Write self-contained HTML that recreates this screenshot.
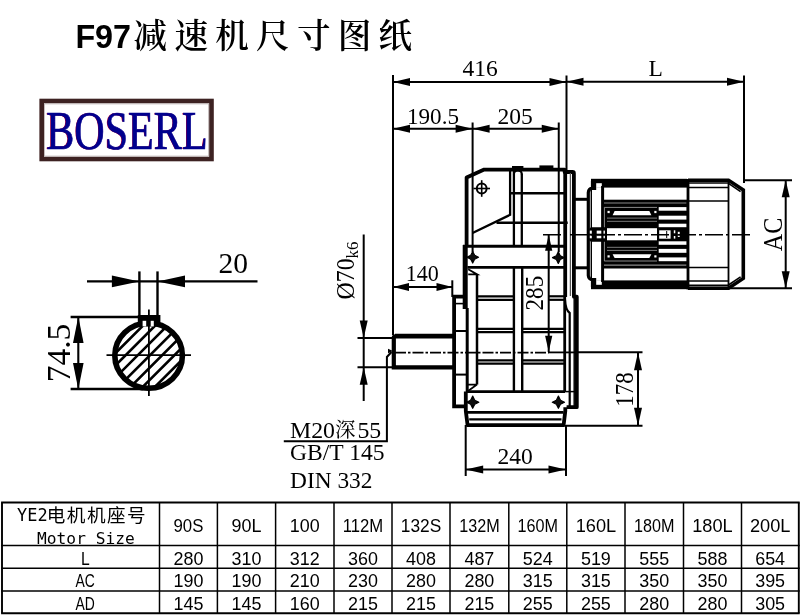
<!DOCTYPE html>
<html lang="zh"><head><meta charset="utf-8"><title>F97减速机尺寸图纸</title>
<style>
html,body{margin:0;padding:0;background:#fff;}
svg{display:block;}
.se{font-family:"Liberation Serif","Noto Serif CJK SC",serif;}
.sa{font-family:"Liberation Sans","Noto Sans CJK SC",sans-serif;}
.kai{font-family:"Noto Serif CJK SC","Liberation Serif",serif;font-weight:600;}
.tb{font-family:"Liberation Sans","Noto Sans CJK SC",sans-serif;}
.cj{font-family:"Noto Sans CJK SC","WenQuanYi Zen Hei",sans-serif;}
.tm{font-family:"DejaVu Sans Mono","Liberation Mono",monospace;}
text{stroke:none;}
</style></head><body>
<svg width="800" height="616" viewBox="0 0 800 616">
<rect x="0" y="0" width="800" height="616" fill="#fff"/>
<defs><filter id="soft" x="-2%" y="-2%" width="104%" height="104%"><feGaussianBlur stdDeviation="0.45"/></filter></defs>
<g stroke="#000" fill="#000" filter="url(#soft)">
<text x="75.4" y="47.5" font-size="34" font-weight="bold" class="sa" textLength="55.6" lengthAdjust="spacingAndGlyphs" stroke="none">F97</text>
<text x="133.6" y="48.2" font-size="33.6" class="kai" textLength="278.6" lengthAdjust="spacing" stroke="none">减速机尺寸图纸</text>
<rect x="41.7" y="101" width="169.8" height="58" fill="#fff" stroke="#3e2121" stroke-width="4.6"/>
<rect x="44.6" y="103.9" width="164" height="52.2" fill="none" stroke="#b9b0b0" stroke-width="0.8"/>
<g transform="translate(46.2,148.8) scale(0.78,1)"><text x="-0.8" y="0.6" font-size="54" class="se" fill="#e0102a" stroke="none">BOSERL</text><text x="0" y="0" font-size="54" class="se" fill="#00008e" style="stroke:#00008e;stroke-width:0.7px">BOSERL</text></g>
<clipPath id="cc"><ellipse cx="148.6" cy="355.6" rx="34" ry="33"/></clipPath>
<path d="M26.400000000000006,405.6 L126.4,305.6 M38.599999999999994,405.6 L138.6,305.6 M50.8,405.6 L150.8,305.6 M63.0,405.6 L163.0,305.6 M75.19999999999999,405.6 L175.2,305.6 M87.39999999999999,405.6 L187.4,305.6 M99.6,405.6 L199.6,305.6 M111.8,405.6 L211.79999999999998,305.6 M124.0,405.6 L224.0,305.6 M136.2,405.6 L236.2,305.6 M148.39999999999998,405.6 L248.39999999999998,305.6 M160.6,405.6 L260.6,305.6 M172.79999999999998,405.6 L272.79999999999995,305.6" stroke-width="2.6" clip-path="url(#cc)" fill="none"/>
<ellipse cx="148.6" cy="355.6" rx="33.8" ry="32.6" fill="none" stroke-width="5.6"/>
<rect x="137.8" y="315" width="22.6" height="11.6" stroke-width="0" fill="#000" stroke="none"/>
<rect x="142.6" y="320.8" width="3.6" height="5.6" stroke-width="0" fill="#fff" stroke="none"/>
<rect x="150.7" y="320.8" width="3.1" height="5.6" stroke-width="0" fill="#fff" stroke="none"/>
<line x1="106.5" y1="355.2" x2="191" y2="355.2" stroke-width="1.8" />
<line x1="148.9" y1="309.5" x2="148.9" y2="396" stroke-width="1.8" />
<line x1="87" y1="281.4" x2="257.5" y2="281.4" stroke-width="2.1" />
<polygon points="139.4,281.4 111.9,275.59999999999997 111.9,287.2" fill="#000" stroke="none"/>
<polygon points="157.5,281.4 185.0,275.59999999999997 185.0,287.2" fill="#000" stroke="none"/>
<line x1="139.4" y1="271.4" x2="139.4" y2="318" stroke-width="2.4" />
<line x1="157.5" y1="271.4" x2="157.5" y2="318" stroke-width="2.4" />
<text class="se" x="218.5" y="272.7" font-size="29.5" text-anchor="start" textLength="29.5" lengthAdjust="spacingAndGlyphs" >20</text>
<line x1="70.6" y1="317" x2="160" y2="317" stroke-width="2.4" />
<line x1="70.6" y1="389" x2="143" y2="389" stroke-width="2.4" />
<line x1="78.3" y1="317" x2="78.3" y2="389" stroke-width="2.1" />
<polygon points="78.3,316.6 73.0,343.1 83.6,343.1" fill="#000" stroke="none"/>
<polygon points="78.3,389.4 73.0,362.9 83.6,362.9" fill="#000" stroke="none"/>
<text class="se" x="70.2" y="382.2" font-size="33" text-anchor="start" transform="rotate(-90 70.2 382.2)" textLength="58.4" lengthAdjust="spacingAndGlyphs" >74.5</text>
<line x1="393" y1="75" x2="393" y2="335" stroke-width="2.0" />
<line x1="393" y1="82" x2="566.5" y2="82" stroke-width="2.0" />
<polygon points="393,82 410,78.0 410,86.0" fill="#000" stroke="none"/>
<polygon points="566.5,82 549.5,78.0 549.5,86.0" fill="#000" stroke="none"/>
<line x1="566.5" y1="75.5" x2="566.5" y2="170" stroke-width="2.0" />
<line x1="566.5" y1="81.7" x2="744" y2="81.7" stroke-width="2.0" />
<polygon points="566.5,81.7 583.5,77.7 583.5,85.7" fill="#000" stroke="none"/>
<polygon points="744,81.7 727,77.7 727,85.7" fill="#000" stroke="none"/>
<line x1="744" y1="75.5" x2="744" y2="183" stroke-width="2.0" />
<line x1="393" y1="128.8" x2="558.75" y2="128.8" stroke-width="2.0" />
<polygon points="393,128.8 410,124.80000000000001 410,132.8" fill="#000" stroke="none"/>
<polygon points="472.6,128.8 455.6,124.80000000000001 455.6,132.8" fill="#000" stroke="none"/>
<polygon points="472.6,128.8 489.6,124.80000000000001 489.6,132.8" fill="#000" stroke="none"/>
<polygon points="558.75,128.8 541.75,124.80000000000001 541.75,132.8" fill="#000" stroke="none"/>
<line x1="472.6" y1="122.5" x2="472.6" y2="252" stroke-width="2.0" />
<line x1="558.75" y1="122.5" x2="558.75" y2="252" stroke-width="2.0" />
<text class="se" x="462.5" y="76.2" font-size="23.5" text-anchor="start" >416</text>
<text class="se" x="407" y="124.2" font-size="23.5" text-anchor="start" textLength="52" lengthAdjust="spacingAndGlyphs" >190.5</text>
<text class="se" x="497.5" y="124.2" font-size="23.5" text-anchor="start" >205</text>
<text class="se" x="648.5" y="76.4" font-size="23.5" text-anchor="start" >L</text>
<line x1="393" y1="287" x2="452.5" y2="287" stroke-width="2.0" />
<polygon points="393,287 409,283.0 409,291.0" fill="#000" stroke="none"/>
<polygon points="452.5,287 436.5,283.0 436.5,291.0" fill="#000" stroke="none"/>
<line x1="452.3" y1="280.3" x2="452.3" y2="297" stroke-width="2.0" />
<text class="se" x="405.8" y="280.8" font-size="23.5" text-anchor="start" textLength="33" lengthAdjust="spacingAndGlyphs" >140</text>
<line x1="363.7" y1="234.5" x2="363.7" y2="401" stroke-width="2.0" />
<polygon points="363.7,338 359.7,320.5 367.7,320.5" fill="#000" stroke="none"/>
<polygon points="363.7,367.2 359.7,384.7 367.7,384.7" fill="#000" stroke="none"/>
<line x1="357.5" y1="338.1" x2="393" y2="338.1" stroke-width="2.0" />
<line x1="357.5" y1="367.2" x2="393" y2="367.2" stroke-width="2.0" />
<text class="se" transform="translate(353.6,299.4) rotate(-90) scale(0.96,1)" font-size="24.8" stroke="none">Ø70<tspan font-size="17.5" dy="4.8">k6</tspan></text>
<path d="M391.5,352 L386.9,357 L386.9,441.3 L283.8,441.3" stroke-width="2.0" fill="none" />
<polygon points="393,351 388,348.8 388,353.2" fill="#000" stroke="none"/>
<text class="se" x="290" y="437.5" font-size="23.8" text-anchor="start" >M20<tspan font-size="20.5" dy="-0.5">深</tspan><tspan dy="0.5" dx="2">55</tspan></text>
<text class="se" x="290" y="460" font-size="23.5" text-anchor="start" textLength="94.5" lengthAdjust="spacingAndGlyphs" >GB/T 145</text>
<text class="se" x="290" y="487.5" font-size="23.5" text-anchor="start" textLength="82.5" lengthAdjust="spacingAndGlyphs" >DIN 332</text>
<line x1="465.7" y1="425" x2="465.7" y2="476" stroke-width="2.0" />
<line x1="566" y1="425" x2="566" y2="476" stroke-width="2.0" />
<line x1="465.7" y1="469.5" x2="566" y2="469.5" stroke-width="2.0" />
<polygon points="465.7,469.5 483.2,465.5 483.2,473.5" fill="#000" stroke="none"/>
<polygon points="566,469.5 548.5,465.5 548.5,473.5" fill="#000" stroke="none"/>
<text class="se" x="497.5" y="463.8" font-size="23.5" text-anchor="start" >240</text>
<line x1="578" y1="352.3" x2="642.5" y2="352.3" stroke-width="2.0" />
<line x1="566" y1="425.7" x2="642.5" y2="425.7" stroke-width="2.0" />
<line x1="638" y1="352.3" x2="638" y2="425.7" stroke-width="2.0" />
<polygon points="638,352.3 634.0,370.3 642.0,370.3" fill="#000" stroke="none"/>
<polygon points="638,425.7 634.0,407.7 642.0,407.7" fill="#000" stroke="none"/>
<text class="se" x="632.6" y="406.8" font-size="25.2" text-anchor="start" transform="rotate(-90 632.6 406.8)" textLength="34.4" lengthAdjust="spacingAndGlyphs" >178</text>
<line x1="548.7" y1="234.7" x2="548.7" y2="352" stroke-width="2.0" />
<polygon points="548.7,234.7 545.1,250.7 552.3000000000001,250.7" fill="#000" stroke="none"/>
<polygon points="548.7,351.8 545.1,335.8 552.3000000000001,335.8" fill="#000" stroke="none"/>
<text class="se" x="543.2" y="310.4" font-size="25.6" text-anchor="start" transform="rotate(-90 543.2 310.4)" textLength="34.6" lengthAdjust="spacingAndGlyphs" >285</text>
<line x1="743" y1="180.3" x2="792" y2="180.3" stroke-width="2.0" />
<line x1="728" y1="288.3" x2="792" y2="288.3" stroke-width="2.0" />
<line x1="785.7" y1="180.3" x2="785.7" y2="288.3" stroke-width="2.0" />
<polygon points="785.7,180.3 781.7,197.3 789.7,197.3" fill="#000" stroke="none"/>
<polygon points="785.7,288.3 781.7,271.3 789.7,271.3" fill="#000" stroke="none"/>
<text class="se" x="782" y="251.2" font-size="27.4" text-anchor="start" transform="rotate(-90 782 251.2)" textLength="33.4" lengthAdjust="spacingAndGlyphs" >AC</text>
<path d="M466.6,246 L466.6,177.6 L484.2,169.6 L564.6,169.6 L564.6,172 L572.6,172 Q573.9,172 573.9,173.4 L573.9,296.7 L576.8,296.7 L576.8,407.2 L566.6,407.2" stroke-width="3.8" fill="none" stroke-linejoin="round"/>
<line x1="512" y1="167.4" x2="523.4" y2="167.4" stroke-width="2.8" />
<line x1="539.4" y1="166.8" x2="553.4" y2="166.8" stroke-width="2.8" />
<path d="M510.1,170 L510.1,214.8 L472.5,233" stroke-width="2.3" fill="none" />
<line x1="513.9" y1="171" x2="513.9" y2="246.3" stroke-width="2.3" />
<line x1="521.8" y1="173.5" x2="521.8" y2="246.3" stroke-width="2.3" />
<path d="M513.9,174.5 Q513.9,170.6 517.8,170.6 Q521.8,170.6 521.8,174.5" stroke-width="2.0" fill="none" />
<line x1="510" y1="193.3" x2="564" y2="193.3" stroke-width="2.5" />
<line x1="496.5" y1="222.7" x2="567.7" y2="222.7" stroke-width="2.5" />
<line x1="565.2" y1="169.6" x2="565.2" y2="297" stroke-width="3.8" />
<line x1="564.7" y1="297" x2="564.7" y2="391.6" stroke-width="2.8" />
<line x1="570.4" y1="173" x2="570.4" y2="296" stroke-width="1.3" stroke="#555"/>
<path d="M565,299.5 Q565.5,310 569.7,313 L569.7,407" stroke-width="2.2" fill="none" />
<line x1="574.2" y1="298" x2="574.2" y2="407" stroke-width="1.5" />
<line x1="565" y1="391.6" x2="577" y2="391.6" stroke-width="1.5" />
<circle cx="481.7" cy="188.5" r="4.9" fill="none" stroke-width="2"/>
<line x1="473.4" y1="188.5" x2="490" y2="188.5" stroke-width="1.6" />
<line x1="481.7" y1="180.2" x2="481.7" y2="196.8" stroke-width="1.6" />
<line x1="463" y1="246.2" x2="565" y2="246.2" stroke-width="3.0" />
<line x1="467.5" y1="267.3" x2="565" y2="267.3" stroke-width="2.8" />
<polygon points="466.90,257.20 470.78,255.28 472.70,251.40 474.62,255.28 478.50,257.20 474.62,259.12 472.70,263.00 470.78,259.12" fill="#000" stroke="#000" stroke-width="1.2" stroke-linejoin="round"/>
<circle cx="472.7" cy="257.2" r="2.96" fill="#111" stroke="none"/>
<polygon points="552.50,257.60 556.38,255.68 558.30,251.80 560.22,255.68 564.10,257.60 560.22,259.52 558.30,263.40 556.38,259.52" fill="#000" stroke="#000" stroke-width="1.2" stroke-linejoin="round"/>
<circle cx="558.3" cy="257.6" r="2.96" fill="#111" stroke="none"/>
<line x1="465.2" y1="245" x2="465.2" y2="309" stroke-width="5.0" />
<line x1="467.2" y1="308" x2="467.2" y2="392" stroke-width="3.0" />
<path d="M468.2,269.2 L477.2,274.4 L468.2,274.4" stroke-width="1.8" fill="none" />
<line x1="477" y1="274.4" x2="477" y2="384.6" stroke-width="2.5" />
<path d="M477,384.6 L467.2,384.6 M477,384.6 L467.4,391.4" stroke-width="1.8" fill="none" />
<line x1="477" y1="296.3" x2="513.8" y2="296.3" stroke-width="2.2" />
<line x1="548.6" y1="296.3" x2="564.6" y2="296.3" stroke-width="2.2" />
<line x1="477" y1="299.8" x2="513.8" y2="299.8" stroke-width="2.2" />
<line x1="548.6" y1="299.8" x2="564.6" y2="299.8" stroke-width="2.2" />
<line x1="477" y1="328.8" x2="513.8" y2="328.8" stroke-width="2.2" />
<line x1="522.3" y1="328.8" x2="564.6" y2="328.8" stroke-width="2.2" />
<line x1="477" y1="332.2" x2="513.8" y2="332.2" stroke-width="2.2" />
<line x1="522.3" y1="332.2" x2="564.6" y2="332.2" stroke-width="2.2" />
<line x1="477" y1="360.3" x2="513.8" y2="360.3" stroke-width="2.2" />
<line x1="522.3" y1="360.3" x2="564.6" y2="360.3" stroke-width="2.2" />
<line x1="477" y1="363.7" x2="513.8" y2="363.7" stroke-width="2.2" />
<line x1="522.3" y1="363.7" x2="564.6" y2="363.7" stroke-width="2.2" />
<line x1="513.9" y1="267.3" x2="513.9" y2="391.7" stroke-width="2.4" />
<line x1="522.2" y1="267.3" x2="522.2" y2="391.7" stroke-width="2.4" />
<line x1="395" y1="352.6" x2="549" y2="352.6" stroke-width="1.7" stroke-dasharray="11 2 2.5 2"/>
<line x1="549" y1="352.4" x2="578" y2="352.4" stroke-width="1.8" />
<line x1="466" y1="391.6" x2="565" y2="391.6" stroke-width="2.6" />
<polygon points="466.60,402.20 470.67,400.17 472.70,396.10 474.73,400.17 478.80,402.20 474.73,404.23 472.70,408.30 470.67,404.23" fill="#000" stroke="#000" stroke-width="1.2" stroke-linejoin="round"/>
<circle cx="472.7" cy="402.2" r="3.12" fill="#111" stroke="none"/>
<polygon points="552.30,402.20 556.37,400.17 558.40,396.10 560.43,400.17 564.50,402.20 560.43,404.23 558.40,408.30 556.37,404.23" fill="#000" stroke="#000" stroke-width="1.2" stroke-linejoin="round"/>
<circle cx="558.4" cy="402.2" r="3.12" fill="#111" stroke="none"/>
<line x1="466" y1="412.3" x2="563.5" y2="412.3" stroke-width="2.8" />
<line x1="469.2" y1="419.3" x2="561.5" y2="419.3" stroke-width="2.2" />
<path d="M465.8,391.6 L465.8,411 L467.6,425.2 L563.6,425.2 L565.3,411 L565.3,407.2" stroke-width="3.8" fill="none" stroke-linejoin="round"/>
<path d="M465,296.6 L454.1,296.6 L454.1,406.4 L466,406.4" stroke-width="3.8" fill="none" />
<line x1="454" y1="331" x2="467" y2="331" stroke-width="2.0" />
<line x1="454" y1="374.6" x2="467" y2="374.6" stroke-width="2.0" />
<line x1="455" y1="303.6" x2="464" y2="303.6" stroke-width="1.6" />
<path d="M454,336.4 L395.3,336.4 Q393.8,336.4 393.8,338 L393.8,367.3 L454,367.3" stroke-width="4.2" fill="none" />
<line x1="395" y1="335.6" x2="454" y2="335.6" stroke-width="3.6" />
<line x1="574.2" y1="199.3" x2="588" y2="199.3" stroke-width="3.0" />
<line x1="574.2" y1="267.8" x2="588" y2="267.8" stroke-width="3.0" />
<path d="M592.5,181 L592.5,188.2 Q588.6,188.6 588.3,192.5 L588.3,275.5 Q588.6,279.4 592.5,279.8 L592.5,287" stroke-width="3.2" fill="none" />
<line x1="591.3" y1="190" x2="591.3" y2="278" stroke-width="1.4" />
<rect x="591" y="178.8" width="96" height="8.8" stroke-width="0" fill="#000" stroke="none"/>
<rect x="591" y="280.4" width="96" height="8.8" stroke-width="0" fill="#000" stroke="none"/>
<rect x="591" y="186" width="5.2" height="4" stroke-width="0" fill="#000" stroke="none"/>
<rect x="591" y="278" width="5.2" height="4" stroke-width="0" fill="#000" stroke="none"/>
<rect x="596.2" y="183.2" width="5.6" height="4.6" stroke-width="0" fill="#fff" stroke="none"/>
<rect x="596.2" y="280.2" width="5.6" height="4.6" stroke-width="0" fill="#fff" stroke="none"/>
<line x1="602.6" y1="186" x2="602.6" y2="282" stroke-width="3.0" />
<rect x="602.6" y="199.7" width="85" height="7.3" stroke-width="0" fill="#000" stroke="none"/>
<rect x="602.6" y="261.2" width="85" height="7.3" stroke-width="0" fill="#000" stroke="none"/>
<line x1="604" y1="203" x2="686.5" y2="203" stroke-width="1.2" stroke="#8a8a8a"/>
<line x1="604" y1="265.2" x2="686.5" y2="265.2" stroke-width="1.2" stroke="#8a8a8a"/>
<rect x="602.6" y="206" width="55.6" height="56" stroke-width="0" fill="#000" stroke="none"/>
<line x1="604.3" y1="207.4" x2="657" y2="207.4" stroke-width="0.9" stroke="#9a9a9a"/>
<line x1="604.3" y1="261" x2="657" y2="261" stroke-width="0.9" stroke="#9a9a9a"/>
<line x1="604.4" y1="207.4" x2="604.4" y2="261" stroke-width="0.9" stroke="#9a9a9a"/>
<polygon points="612.6,215.2 614.6,211 649.3,211 651.4,215.2" fill="#fff" stroke="none"/>
<polygon points="612.6,254.2 614.6,258 649.3,258 651.4,254.2" fill="#fff" stroke="none"/>
<rect x="607.5" y="210.9" width="2.2" height="2.2" stroke-width="0" fill="#fff" stroke="none"/>
<rect x="654.3" y="210.9" width="2.2" height="2.2" stroke-width="0" fill="#fff" stroke="none"/>
<rect x="607.5" y="255.29999999999998" width="2.2" height="2.2" stroke-width="0" fill="#fff" stroke="none"/>
<rect x="654.3" y="255.29999999999998" width="2.2" height="2.2" stroke-width="0" fill="#fff" stroke="none"/>
<line x1="607" y1="218.1" x2="657" y2="218.1" stroke-width="0.9" stroke="#8c8c8c"/>
<line x1="607" y1="221.3" x2="657" y2="221.3" stroke-width="0.9" stroke="#8c8c8c"/>
<line x1="607" y1="247.3" x2="657" y2="247.3" stroke-width="0.9" stroke="#8c8c8c"/>
<line x1="607" y1="250.4" x2="657" y2="250.4" stroke-width="0.9" stroke="#8c8c8c"/>
<rect x="607" y="228.2" width="50" height="12.1" stroke-width="0" fill="#fff" stroke="none"/>
<rect x="657.5" y="206" width="30" height="56" stroke-width="0" fill="#000" stroke="none"/>
<rect x="658.7" y="207.1" width="28" height="3.5999999999999943" stroke-width="0" fill="#fff" stroke="none"/>
<rect x="658.7" y="215.7" width="28" height="3.9000000000000057" stroke-width="0" fill="#fff" stroke="none"/>
<rect x="658.7" y="223.7" width="28" height="3.5" stroke-width="0" fill="#fff" stroke="none"/>
<rect x="658.7" y="241.3" width="28" height="3.5" stroke-width="0" fill="#fff" stroke="none"/>
<rect x="658.7" y="248.9" width="28" height="3.9000000000000057" stroke-width="0" fill="#fff" stroke="none"/>
<rect x="658.7" y="257.4" width="28" height="3.8000000000000114" stroke-width="0" fill="#fff" stroke="none"/>
<rect x="659.2" y="230.3" width="11.4" height="8.4" stroke-width="0" fill="#fff" stroke="none"/>
<line x1="666.7" y1="231" x2="666.7" y2="238" stroke-width="1.0" />
<rect x="673.8" y="230.3" width="1.5" height="3" stroke-width="0" fill="#fff" stroke="none"/>
<rect x="673.8" y="236" width="1.5" height="2.6" stroke-width="0" fill="#fff" stroke="none"/>
<rect x="677.8" y="231.8" width="1.9" height="2.4" stroke-width="0" fill="#fff" stroke="none"/>
<rect x="677.8" y="235.4" width="1.9" height="1.6" stroke-width="0" fill="#fff" stroke="none"/>
<path d="M592,227.2 L605.4,227.2 L605.4,241.8 L592,241.8 Q589.2,241.8 589.2,239 L589.2,230 Q589.2,227.2 592,227.2 Z" stroke-width="0" fill="#000" stroke="none"/>
<rect x="589.8" y="230.6" width="2.0" height="3.1" stroke-width="0" fill="#fff" stroke="none"/>
<rect x="589.8" y="235.6" width="2.0" height="2.7" stroke-width="0" fill="#fff" stroke="none"/>
<rect x="596.7" y="230.6" width="4.599999999999909" height="3.1" stroke-width="0" fill="#fff" stroke="none"/>
<rect x="596.7" y="235.6" width="4.599999999999909" height="2.7" stroke-width="0" fill="#fff" stroke="none"/>
<rect x="603.5" y="230.6" width="1.3999999999999773" height="3.1" stroke-width="0" fill="#fff" stroke="none"/>
<rect x="603.5" y="235.6" width="1.3999999999999773" height="2.7" stroke-width="0" fill="#fff" stroke="none"/>
<path d="M688,180.2 L728.5,180.2 L743.3,190 L743.3,278.4 L728.5,288.2 L688,288.2" stroke-width="3.6" fill="none" />
<line x1="688" y1="179" x2="688" y2="289.5" stroke-width="2.8" />
<line x1="728.5" y1="180.2" x2="728.5" y2="288.2" stroke-width="1.8" />
<path d="M728.5,183.4 L740.6,191.6" stroke-width="1.6" fill="none" />
<path d="M728.5,285 L740.6,276.8" stroke-width="1.6" fill="none" />
<line x1="688" y1="183" x2="728.5" y2="183" stroke-width="1.7" />
<line x1="688" y1="187.5" x2="728.5" y2="187.5" stroke-width="1.7" />
<line x1="688" y1="201" x2="728.5" y2="201" stroke-width="1.7" />
<line x1="688" y1="267.5" x2="728.5" y2="267.5" stroke-width="1.7" />
<line x1="688" y1="281" x2="728.5" y2="281" stroke-width="1.7" />
<line x1="688" y1="285.4" x2="728.5" y2="285.4" stroke-width="1.7" />
<line x1="543" y1="234.7" x2="750" y2="234.7" stroke-width="1.5" stroke-dasharray="18 3 3 3"/>
<line x1="2" y1="502.5" x2="2" y2="613.3" stroke-width="1.9" />
<line x1="159.5" y1="502.5" x2="159.5" y2="613.3" stroke-width="1.5" />
<line x1="217.4" y1="502.5" x2="217.4" y2="613.3" stroke-width="1.5" />
<line x1="275.6" y1="502.5" x2="275.6" y2="613.3" stroke-width="1.5" />
<line x1="334" y1="502.5" x2="334" y2="613.3" stroke-width="1.5" />
<line x1="392" y1="502.5" x2="392" y2="613.3" stroke-width="1.5" />
<line x1="450" y1="502.5" x2="450" y2="613.3" stroke-width="1.5" />
<line x1="508.8" y1="502.5" x2="508.8" y2="613.3" stroke-width="1.5" />
<line x1="566.8" y1="502.5" x2="566.8" y2="613.3" stroke-width="1.5" />
<line x1="625" y1="502.5" x2="625" y2="613.3" stroke-width="1.5" />
<line x1="683.5" y1="502.5" x2="683.5" y2="613.3" stroke-width="1.5" />
<line x1="741.5" y1="502.5" x2="741.5" y2="613.3" stroke-width="1.5" />
<line x1="798.8" y1="502.5" x2="798.8" y2="613.3" stroke-width="1.9" />
<line x1="1.1" y1="502.5" x2="799.6999999999999" y2="502.5" stroke-width="1.9" />
<line x1="1.1" y1="545.6" x2="799.6999999999999" y2="545.6" stroke-width="1.5" />
<line x1="1.1" y1="568.2" x2="799.6999999999999" y2="568.2" stroke-width="1.5" />
<line x1="1.1" y1="590.9" x2="799.6999999999999" y2="590.9" stroke-width="1.5" />
<line x1="1.1" y1="613.3" x2="799.6999999999999" y2="613.3" stroke-width="1.9" />
<text class="tm" x="17" y="521.4" font-size="17.6" stroke="none" textLength="30.6" lengthAdjust="spacingAndGlyphs">YE2</text>
<text class="cj" x="46.8" y="521.8" font-size="18.6" stroke="none" textLength="98.8" lengthAdjust="spacing">电机机座号</text>
<text class="tm" x="37.1" y="544.2" font-size="16.7" stroke="none" textLength="97.6" lengthAdjust="spacingAndGlyphs">Motor Size</text>
<text class="tb" x="173.50" y="532.1" font-size="17.8" textLength="29.90" lengthAdjust="spacingAndGlyphs" stroke="none">90S</text>
<text class="tb" x="231.55" y="532.1" font-size="17.8" textLength="29.90" lengthAdjust="spacingAndGlyphs" stroke="none">90L</text>
<text class="tb" x="289.85" y="532.1" font-size="17.8" textLength="29.90" lengthAdjust="spacingAndGlyphs" stroke="none">100</text>
<text class="tb" x="342.75" y="532.1" font-size="17.8" textLength="40.50" lengthAdjust="spacingAndGlyphs" stroke="none">112M</text>
<text class="tb" x="400.75" y="532.1" font-size="17.8" textLength="40.50" lengthAdjust="spacingAndGlyphs" stroke="none">132S</text>
<text class="tb" x="459.15" y="532.1" font-size="17.8" textLength="40.50" lengthAdjust="spacingAndGlyphs" stroke="none">132M</text>
<text class="tb" x="517.55" y="532.1" font-size="17.8" textLength="40.50" lengthAdjust="spacingAndGlyphs" stroke="none">160M</text>
<text class="tb" x="575.65" y="532.1" font-size="17.8" textLength="40.50" lengthAdjust="spacingAndGlyphs" stroke="none">160L</text>
<text class="tb" x="634.00" y="532.1" font-size="17.8" textLength="40.50" lengthAdjust="spacingAndGlyphs" stroke="none">180M</text>
<text class="tb" x="692.25" y="532.1" font-size="17.8" textLength="40.50" lengthAdjust="spacingAndGlyphs" stroke="none">180L</text>
<text class="tb" x="749.90" y="532.1" font-size="17.8" textLength="40.50" lengthAdjust="spacingAndGlyphs" stroke="none">200L</text>
<text class="tb" x="80.90" y="564.5" font-size="17.8" textLength="8.70" lengthAdjust="spacingAndGlyphs" stroke="none">L</text>
<text class="tb" x="173.50" y="564.5" font-size="17.8" textLength="29.90" lengthAdjust="spacingAndGlyphs" stroke="none">280</text>
<text class="tb" x="231.55" y="564.5" font-size="17.8" textLength="29.90" lengthAdjust="spacingAndGlyphs" stroke="none">310</text>
<text class="tb" x="289.85" y="564.5" font-size="17.8" textLength="29.90" lengthAdjust="spacingAndGlyphs" stroke="none">312</text>
<text class="tb" x="348.05" y="564.5" font-size="17.8" textLength="29.90" lengthAdjust="spacingAndGlyphs" stroke="none">360</text>
<text class="tb" x="406.05" y="564.5" font-size="17.8" textLength="29.90" lengthAdjust="spacingAndGlyphs" stroke="none">408</text>
<text class="tb" x="464.45" y="564.5" font-size="17.8" textLength="29.90" lengthAdjust="spacingAndGlyphs" stroke="none">487</text>
<text class="tb" x="522.85" y="564.5" font-size="17.8" textLength="29.90" lengthAdjust="spacingAndGlyphs" stroke="none">524</text>
<text class="tb" x="580.95" y="564.5" font-size="17.8" textLength="29.90" lengthAdjust="spacingAndGlyphs" stroke="none">519</text>
<text class="tb" x="639.30" y="564.5" font-size="17.8" textLength="29.90" lengthAdjust="spacingAndGlyphs" stroke="none">555</text>
<text class="tb" x="697.55" y="564.5" font-size="17.8" textLength="29.90" lengthAdjust="spacingAndGlyphs" stroke="none">588</text>
<text class="tb" x="755.20" y="564.5" font-size="17.8" textLength="29.90" lengthAdjust="spacingAndGlyphs" stroke="none">654</text>
<text class="tb" x="75.60" y="587" font-size="17.8" textLength="19.30" lengthAdjust="spacingAndGlyphs" stroke="none">AC</text>
<text class="tb" x="173.50" y="587" font-size="17.8" textLength="29.90" lengthAdjust="spacingAndGlyphs" stroke="none">190</text>
<text class="tb" x="231.55" y="587" font-size="17.8" textLength="29.90" lengthAdjust="spacingAndGlyphs" stroke="none">190</text>
<text class="tb" x="289.85" y="587" font-size="17.8" textLength="29.90" lengthAdjust="spacingAndGlyphs" stroke="none">210</text>
<text class="tb" x="348.05" y="587" font-size="17.8" textLength="29.90" lengthAdjust="spacingAndGlyphs" stroke="none">230</text>
<text class="tb" x="406.05" y="587" font-size="17.8" textLength="29.90" lengthAdjust="spacingAndGlyphs" stroke="none">280</text>
<text class="tb" x="464.45" y="587" font-size="17.8" textLength="29.90" lengthAdjust="spacingAndGlyphs" stroke="none">280</text>
<text class="tb" x="522.85" y="587" font-size="17.8" textLength="29.90" lengthAdjust="spacingAndGlyphs" stroke="none">315</text>
<text class="tb" x="580.95" y="587" font-size="17.8" textLength="29.90" lengthAdjust="spacingAndGlyphs" stroke="none">315</text>
<text class="tb" x="639.30" y="587" font-size="17.8" textLength="29.90" lengthAdjust="spacingAndGlyphs" stroke="none">350</text>
<text class="tb" x="697.55" y="587" font-size="17.8" textLength="29.90" lengthAdjust="spacingAndGlyphs" stroke="none">350</text>
<text class="tb" x="755.20" y="587" font-size="17.8" textLength="29.90" lengthAdjust="spacingAndGlyphs" stroke="none">395</text>
<text class="tb" x="75.60" y="610" font-size="17.8" textLength="19.30" lengthAdjust="spacingAndGlyphs" stroke="none">AD</text>
<text class="tb" x="173.50" y="610" font-size="17.8" textLength="29.90" lengthAdjust="spacingAndGlyphs" stroke="none">145</text>
<text class="tb" x="231.55" y="610" font-size="17.8" textLength="29.90" lengthAdjust="spacingAndGlyphs" stroke="none">145</text>
<text class="tb" x="289.85" y="610" font-size="17.8" textLength="29.90" lengthAdjust="spacingAndGlyphs" stroke="none">160</text>
<text class="tb" x="348.05" y="610" font-size="17.8" textLength="29.90" lengthAdjust="spacingAndGlyphs" stroke="none">215</text>
<text class="tb" x="406.05" y="610" font-size="17.8" textLength="29.90" lengthAdjust="spacingAndGlyphs" stroke="none">215</text>
<text class="tb" x="464.45" y="610" font-size="17.8" textLength="29.90" lengthAdjust="spacingAndGlyphs" stroke="none">215</text>
<text class="tb" x="522.85" y="610" font-size="17.8" textLength="29.90" lengthAdjust="spacingAndGlyphs" stroke="none">255</text>
<text class="tb" x="580.95" y="610" font-size="17.8" textLength="29.90" lengthAdjust="spacingAndGlyphs" stroke="none">255</text>
<text class="tb" x="639.30" y="610" font-size="17.8" textLength="29.90" lengthAdjust="spacingAndGlyphs" stroke="none">280</text>
<text class="tb" x="697.55" y="610" font-size="17.8" textLength="29.90" lengthAdjust="spacingAndGlyphs" stroke="none">280</text>
<text class="tb" x="755.20" y="610" font-size="17.8" textLength="29.90" lengthAdjust="spacingAndGlyphs" stroke="none">305</text>
</g>
</svg>
</body></html>
